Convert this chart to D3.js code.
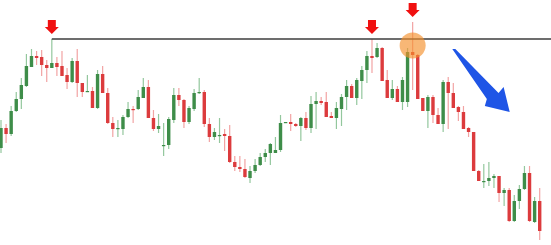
<!DOCTYPE html>
<html>
<head>
<meta charset="utf-8">
<script src="https://d3js.org/d3.v7.min.js"></script>
<style>
  body { margin: 0; background: #fff; }
</style>
</head>
<body>
<script>
// OHLC values (no axis shown, so price units are arbitrary)
var opens  = [97,117,111,134,146,159,178,189,188,180,177,182,179,170,163,184,162,153,154,137,171,152,122,116,116,128,136,136,147,158,127,116,100,100,125,150,145,123,136,152,153,121,108,110,111,109,83,78,76,67,74,80,88,92,92,95,122,123,121,119,127,117,141,144,143,129,127,136,148,159,147,164,175,189,188,197,165,147,156,143,143,193,190,147,134,148,130,121,163,152,138,133,117,113,74,64,64,67,69,52,55,24,44,56,72,23,44];
var closes = [117,111,134,146,160,179,189,187,180,177,182,178,169,163,184,162,153,154,137,171,152,122,116,117,128,136,135,148,158,127,116,119,100,126,150,145,123,137,152,153,121,108,113,110,109,83,78,76,68,74,80,88,92,101,95,122,123,121,119,127,117,141,144,142,128,127,137,148,159,147,165,175,189,187,197,164,147,156,143,165,193,190,146,134,148,130,121,163,152,137,133,116,113,74,64,64,67,69,52,55,24,44,56,72,24,44,14];
var highs  = [125,121,139,153,167,191,196,194,195,185,206,188,194,177,187,196,162,170,158,175,179,157,128,125,130,143,139,155,167,165,135,131,122,128,157,157,146,139,156,167,155,127,117,127,116,120,89,89,86,79,86,92,96,102,108,130,128,131,122,128,133,149,153,148,153,133,143,151,165,161,167,179,194,206,202,198,175,165,159,168,197,223,191,147,150,150,137,165,168,162,139,139,118,113,75,81,83,71,63,57,57,50,60,79,79,48,57];
var lows   = [92,102,109,133,136,158,178,180,169,163,177,169,169,156,162,148,148,153,137,136,152,121,108,108,110,127,122,135,147,127,114,112,89,96,122,139,117,121,134,151,118,103,105,102,94,82,74,73,67,62,72,79,83,80,92,93,128,114,118,104,115,112,116,140,139,127,116,119,135,148,140,146,162,172,187,188,163,145,146,135,138,155,182,145,117,122,122,113,116,143,124,124,108,102,73,57,59,57,43,39,23,23,36,55,23,22,5];
var resistanceFrom = 10;          // index of the first swing high
var signalBars = [10, 73, 81];    // bars marked with a red arrow
var rejectionBar = 81;            // bar circled in orange
// blue "down" arrow, in (bar index, price) space
var trendArrow = [[88.8,196],[95.6,146],[95.2,139],[100.1,133],[98.9,158],[97.9,152],[89.4,196]];

var width = 551, height = 245;

var candles = opens.map(function(o, i) {
  return {i: i, open: o, close: closes[i], high: highs[i], low: lows[i]};
});

var x = d3.scaleLinear().domain([0, candles.length - 1]).range([1, 539.7]);
var y = d3.scaleLinear().domain([0, 245]).range([245, 0]);

var svg = d3.select("body").append("svg")
    .attr("width", width)
    .attr("height", height);

var bodyW = 3.4;
var up = function(d) { return d.close >= d.open; };

// wicks
svg.append("g").selectAll("line")
    .data(candles)
  .enter().append("line")
    .attr("x1", function(d) { return x(d.i); })
    .attr("x2", function(d) { return x(d.i); })
    .attr("y1", function(d) { return y(d.high); })
    .attr("y2", function(d) { return y(d.low); })
    .attr("stroke", function(d) { return up(d) ? "#93c79d" : "#f2a3a3"; })
    .attr("stroke-width", 1.2);

// bodies
svg.append("g").selectAll("rect")
    .data(candles)
  .enter().append("rect")
    .attr("x", function(d) { return x(d.i) - bodyW / 2; })
    .attr("y", function(d) { return y(Math.max(d.open, d.close)); })
    .attr("width", bodyW)
    .attr("height", function(d) { return Math.max(1.2, Math.abs(y(d.open) - y(d.close))); })
    .attr("fill", function(d) { return up(d) ? "#3e8d49" : "#dc3b3d"; });

// resistance line from the first high to the right edge
var resY = y(highs[resistanceFrom]);
svg.append("line")
    .attr("x1", x(resistanceFrom))
    .attr("x2", width)
    .attr("y1", resY)
    .attr("y2", resY)
    .attr("stroke", "#3c3c3c")
    .attr("stroke-width", 1.5);

// orange circle on the rejection bar
svg.append("circle")
    .attr("cx", x(rejectionBar))
    .attr("cy", y(highs[resistanceFrom]) + 6.5)
    .attr("r", 13)
    .attr("fill", "rgba(245,145,45,0.65)");

// red down arrows above the signal bars
svg.append("g").selectAll("path")
    .data(signalBars)
  .enter().append("path")
    .attr("transform", function(i) { return "translate(" + x(i) + "," + (y(highs[i]) - 5) + ")"; })
    .attr("d", "M -4 -14 L 4 -14 L 4 -7 L 7 -7 L 0 0 L -7 -7 L -4 -7 Z")
    .attr("fill", "#f01010");

// blue trend arrow
svg.append("path")
    .attr("d", d3.line().x(function(p) { return x(p[0]); }).y(function(p) { return y(p[1]); })(trendArrow) + "Z")
    .attr("fill", "#1f55e6");
</script>
</body>
</html>
